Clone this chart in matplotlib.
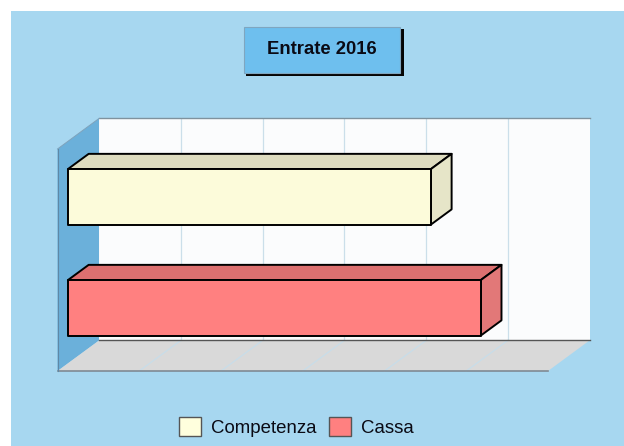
import matplotlib
matplotlib.use("Agg")
import matplotlib.pyplot as plt
from matplotlib.patches import Patch, Polygon, Rectangle

WIDTH, HEIGHT = 624, 446

categories = ["Competenza", "Cassa"]
values = [4.44, 5.05]  # no value labels in the picture, read in grid steps
n_steps = 6
face_colors = ["#FCFBDA", "#FF8080"]
top_colors = ["#DEDCBF", "#DD7070"]
side_colors = ["#E6E5C8", "#E27878"]
legend_colors = ["#FFFFDD", "#FF8080"]
title = "Entrate 2016"

# pseudo 3D: how far the back plane is shifted from the front one, in data units
DEPTH_X = 0.508
DEPTH_Y = -0.275
BAR_FRONT = 0.25
BAR_BACK = 0.75
BAR_HEIGHT = 0.5


def project(x, y, depth):
    return x + depth * DEPTH_X, y + depth * DEPTH_Y


def fig_box(x0, y0, x1, y1):
    # pixel box, origin top left, to figure fractions
    return x0 / WIDTH, 1 - y1 / HEIGHT, (x1 - x0) / WIDTH, (y1 - y0) / HEIGHT


plt.rcParams["font.family"] = ["Liberation Sans", "DejaVu Sans"]
fig = plt.figure(figsize=(WIDTH / 100, HEIGHT / 100), dpi=100, facecolor="white")

x, y, w, h = fig_box(11, 11, WIDTH, HEIGHT)
fig.patches.append(Rectangle((x, y), w, h, transform=fig.transFigure, facecolor="#A7D7F0", edgecolor="none"))

x, y, w, h = fig_box(246, 29, 403.5, 76)
fig.patches.append(Rectangle((x, y), w, h, transform=fig.transFigure, facecolor="#050505", edgecolor="none"))
x, y, w, h = fig_box(243.5, 26.5, 400, 72.5)
fig.patches.append(Rectangle((x, y), w, h, transform=fig.transFigure, facecolor="#6EBFEE", edgecolor="#7FA6C0", linewidth=0.8))
fig.text(322 / WIDTH, 1 - 49.5 / HEIGHT, title, ha="center", va="center", fontsize=13.3, fontweight="bold", color="#0A0A14")

# axes cover the whole figure, so front plane step = 81.75 px, category step = 111 px
ax = fig.add_axes([0, 0, 1, 1])
ax.set_zorder(2)
ax.set_xlim(-57.5 / 81.75, (WIDTH - 57.5) / 81.75)
ax.set_ylim((HEIGHT - 204.5) / 111, -204.5 / 111)
ax.axis("off")

y_top = -0.5
y_bottom = len(categories) - 0.5


def poly(points, **kw):
    ax.add_patch(Polygon([project(*p) for p in points], closed=True, **kw))


# back wall, left wall, floor
poly([(0, y_top, 1), (n_steps, y_top, 1), (n_steps, y_bottom, 1), (0, y_bottom, 1)], facecolor="#FBFCFD", edgecolor="none")
poly([(0, y_top, 0), (0, y_top, 1), (0, y_bottom, 1), (0, y_bottom, 0)], facecolor="#6BB0DA", edgecolor="none")
poly([(0, y_bottom, 0), (n_steps, y_bottom, 0), (n_steps, y_bottom, 1), (0, y_bottom, 1)], facecolor="#D9D9D9", edgecolor="none")

# grid lines on wall and floor
for step in range(1, n_steps):
    xs, ys = zip(project(step, y_top, 1), project(step, y_bottom, 1))
    ax.plot(xs, ys, color="#CBDFEA", lw=0.9)
    xs, ys = zip(project(step, y_bottom, 0), project(step, y_bottom, 1))
    ax.plot(xs, ys, color="#C8DDE9", lw=0.9)

# frame lines
for a, b, col, lw in [
    ((0, y_top, 1), (n_steps, y_top, 1), "#7F929E", 1.0),
    ((0, y_bottom, 1), (n_steps, y_bottom, 1), "#555555", 1.0),
    ((0, y_bottom, 0), (n_steps, y_bottom, 0), "#7F8A94", 1.2),
    ((0, y_top, 0), (0, y_bottom, 0), "#5F88A6", 0.8),
    ((0, y_top, 0), (0, y_top, 1), "#7FA3BC", 0.7),
]:
    xs, ys = zip(project(*a), project(*b))
    ax.plot(xs, ys, color=col, lw=lw)

# bars
for i, value in enumerate(values):
    top = i - BAR_HEIGHT / 2
    bottom = i + BAR_HEIGHT / 2
    style = dict(edgecolor="black", linewidth=1.4, joinstyle="round", zorder=5)
    poly([(0, top, BAR_FRONT), (value, top, BAR_FRONT), (value, top, BAR_BACK), (0, top, BAR_BACK)], facecolor=top_colors[i], **style)
    poly([(value, top, BAR_FRONT), (value, top, BAR_BACK), (value, bottom, BAR_BACK), (value, bottom, BAR_FRONT)], facecolor=side_colors[i], **style)
    poly([(0, top, BAR_FRONT), (value, top, BAR_FRONT), (value, bottom, BAR_FRONT), (0, bottom, BAR_FRONT)], facecolor=face_colors[i], **style)

handles = [Patch(facecolor=c, edgecolor="#555555", linewidth=1.0) for c in legend_colors]
leg = fig.legend(
    handles, categories, ncol=2, frameon=False, fontsize=13.4,
    loc="center", bbox_to_anchor=(296.5 / WIDTH, 1 - 427 / HEIGHT),
    handlelength=1.17, handleheight=1.2, handletextpad=0.55, columnspacing=0.65,
    labelcolor="#0A0A14",
)
leg.set_zorder(3)

fig.savefig("out.png", dpi=100)
plt.close(fig)
